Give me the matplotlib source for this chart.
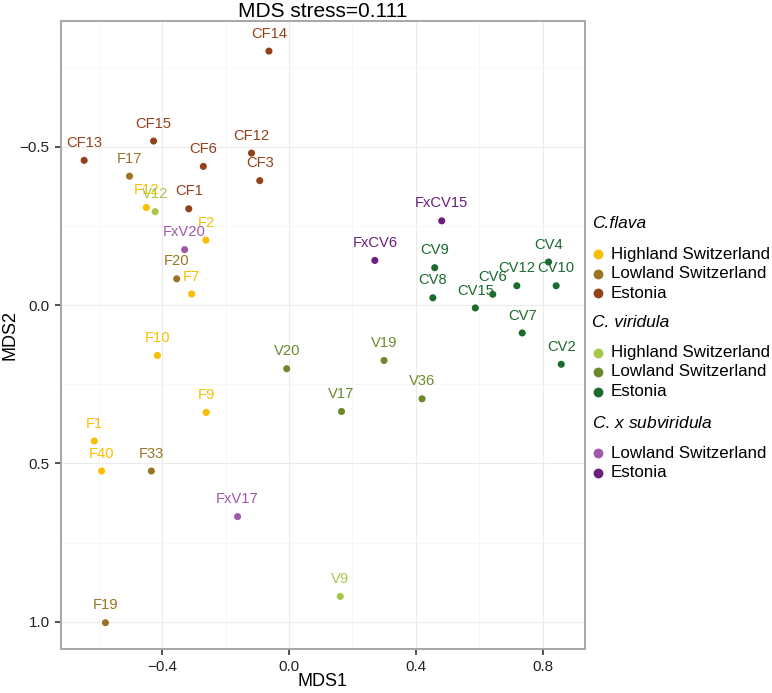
import numpy as np
import matplotlib
matplotlib.use("Agg")
import matplotlib.pyplot as plt

plt.rcParams['font.family'] = ['Liberation Sans', 'DejaVu Sans']
plt.rcParams['mathtext.fontset'] = 'custom'
plt.rcParams['mathtext.it'] = 'Liberation Sans:italic'
plt.rcParams['mathtext.rm'] = 'Liberation Sans'

# sample names, MDS coordinates and group of each sample
names = ['CF14', 'CF15', 'CF13', 'CF12', 'CF6', 'CF3', 'CF1',
         'F17', 'F20', 'F33', 'F19',
         'F12', 'F2', 'F7', 'F10', 'F9', 'F1', 'F40',
         'V12', 'V9',
         'V20', 'V17', 'V19', 'V36',
         'CV9', 'CV8', 'CV15', 'CV6', 'CV12', 'CV10', 'CV4', 'CV7', 'CV2',
         'FxV20', 'FxV17',
         'FxCV15', 'FxCV6']
mds1 = [-0.063, -0.427, -0.646, -0.118, -0.270, -0.092, -0.316,
        -0.503, -0.354, -0.434, -0.579,
        -0.450, -0.262, -0.307, -0.415, -0.261, -0.614, -0.591,
        -0.422, 0.162,
        -0.007, 0.166, 0.300, 0.420,
        0.460, 0.454, 0.588, 0.643, 0.719, 0.843, 0.819, 0.736, 0.859,
        -0.329, -0.162,
        0.482, 0.271]
mds2 = [-0.802, -0.518, -0.457, -0.480, -0.438, -0.393, -0.304,
        -0.407, -0.083, 0.524, 1.003,
        -0.308, -0.205, -0.035, 0.159, 0.339, 0.429, 0.524,
        -0.295, 0.920,
        0.201, 0.336, 0.175, 0.296,
        -0.118, -0.023, 0.009, -0.034, -0.061, -0.061, -0.136, 0.088, 0.187,
        -0.175, 0.668,
        -0.266, -0.141]
groups = ['CF_E'] * 7 + ['F_L'] * 4 + ['F_H'] * 7 + ['V_H'] * 2 + ['V_L'] * 4 + \
         ['CV_E'] * 9 + ['FxV_L'] * 2 + ['FxCV_E'] * 2

group_keys = ['F_H', 'F_L', 'CF_E', 'V_H', 'V_L', 'CV_E', 'FxV_L', 'FxCV_E']
group_colors = ['#F9BE00', '#9A7424', '#93411A', '#A6C64A', '#6C8A2C',
                '#1B6A2E', '#A059A8', '#6A1F7E']
group_labels = ['Highland Switzerland', 'Lowland Switzerland', 'Estonia',
                'Highland Switzerland', 'Lowland Switzerland', 'Estonia',
                'Lowland Switzerland', 'Estonia']
legend_titles = ['C.flava', 'C. viridula',
                 r'$\mathit{C.}\,$x $\mathit{subviridula}$']
color_of = dict(zip(group_keys, group_colors))

W, H = 772, 693
fig = plt.figure(figsize=(W / 100, H / 100), dpi=100)
ax = fig.add_axes([60.7 / W, 1 - 649.3 / H, (585 - 60.7) / W, (649.3 - 20.7) / H])

cols = [color_of[g] for g in groups]
ax.scatter(mds1, mds2, c=cols, s=26, zorder=3, linewidths=0)
for n, x, y, c in zip(names, mds1, mds2, cols):
    ax.annotate(n, (x, y), xytext=(0, 12.5), textcoords='offset points',
                ha='center', va='center', color=c, fontsize=10.6, zorder=4)

ax.set_xlim(-0.720, 0.934)
ax.set_ylim(1.087, -0.898)
ax.set_xticks([-0.4, 0.0, 0.4, 0.8])
ax.set_xticklabels(['\u22120.4', '0.0', '0.4', '0.8'])
ax.set_yticks([-0.5, 0.0, 0.5, 1.0])
ax.set_yticklabels(['\u22120.5', '0.0', '0.5', '1.0'])
ax.set_xticks([-0.6, -0.2, 0.2, 0.6], minor=True)
ax.set_yticks([-0.75, -0.25, 0.25, 0.75], minor=True)
ax.grid(True, which='major', color='#EBEBEB', lw=0.8, zorder=0)
ax.grid(True, which='minor', color='#F6F6F6', lw=0.6, zorder=0)
ax.set_axisbelow(True)
ax.tick_params(which='major', length=4, width=1.1, color='#222222',
               labelsize=11, labelcolor='#222222')
ax.tick_params(axis='x', which='major', pad=4)
ax.tick_params(axis='y', which='major', pad=4)
ax.tick_params(which='minor', length=0)
for sp in ax.spines.values():
    sp.set_color('#A6A6A6')
    sp.set_linewidth(1.4)
ax.set_xlabel('MDS1', fontsize=13, labelpad=-1)
ax.set_ylabel('MDS2', fontsize=13, labelpad=1)
ax.set_title('MDS stress=0.111', fontsize=15, pad=2)

# legend drawn in a pixel-coordinate side panel
lax = fig.add_axes([0, 0, 1, 1], zorder=5)
lax.set_xlim(0, W)
lax.set_ylim(H, 0)
lax.axis('off')
title_y = [224, 322.5, 423]
for i, t in enumerate(legend_titles):
    lax.text(592, title_y[i], t, fontsize=12.5, va='center', ha='left',
             fontstyle='italic')
    for j in range(3 if i < 2 else 2):
        k = i * 3 + j
        ry = title_y[i] + 30 + 19.5 * j
        lax.scatter([598], [ry], s=50, c=group_colors[k], linewidths=0)
        lax.text(611, ry, group_labels[k], fontsize=12.2, va='center', ha='left')

fig.savefig('out.png', dpi=100)
